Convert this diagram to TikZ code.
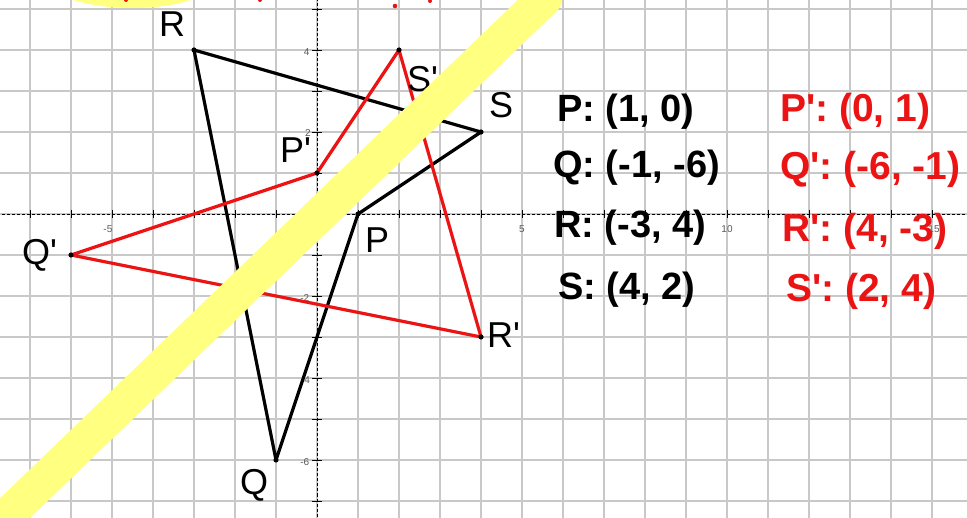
\documentclass[tikz,border=0pt]{standalone}
\usepackage{fontspec}
\setmainfont{Liberation Sans}[Ligatures=TeXOff]
\definecolor{gridc}{RGB}{200,200,200}
\definecolor{myred}{RGB}{235,20,20}
\definecolor{hl}{RGB}{255,255,128}
\definecolor{ticklab}{RGB}{90,90,90}
\begin{document}
\begin{tikzpicture}[x=1pt,y=-1pt,
  vlab/.style={font=\fontsize{36}{36}\selectfont, inner sep=0pt, anchor=base west},
  listblk/.style={font=\bfseries\fontsize{38}{38}\selectfont, inner sep=0pt, anchor=base west},
  listred/.style={listblk, font=\bfseries\fontsize{39}{39}\selectfont, text=myred},
  ticklabel/.style={font=\fontsize{10}{10}\selectfont, text=ticklab, inner sep=0pt},
  polyblack/.style={line width=3.2pt, black, line join=round},
  polyred/.style={line width=3.2pt, myred, line join=round},
  axisline/.style={line width=0.9pt, black, dash pattern=on 3pt off 2pt},
  tickline/.style={line width=0.9pt, black},
]
\useasboundingbox (0,0) rectangle (967,518);
\fill[white] (0,0) rectangle (967,518);
\begin{scope}[shift={(317,214)}, x=41pt, y=41pt]
  \draw[gridc, line width=1.2pt, step=41pt] (-7.8,-7.5) grid (15.9,5.3);
  \draw[axisline] (-7.8,0) -- (15.9,0);
  \draw[axisline] (0,-7.5) -- (0,5.3);
  \foreach \i in {-7,...,15} \draw[tickline] (\i,0) ++(0,4pt) -- ++(0,-8pt);
  \foreach \j in {-7,...,5} \draw[tickline] (0,\j) ++(-5pt,0) -- ++(10pt,0);
  \node[ticklabel] (xm5) at (-5.1,-0.37) {-5};
  \node[ticklabel] (x5) at (5,-0.37) {5};
  \node[ticklabel] (x10) at (10,-0.37) {10};
  \node[ticklabel] (x15) at (15.05,-0.37) {15};
  \node[ticklabel] (y4) at (-0.25,3.95) {4};
  \node[ticklabel] (y2) at (-0.22,1.97) {2};
  \node[ticklabel] (ym2) at (-0.3,-2.05) {-2};
  \node[ticklabel] (ym4) at (-0.28,-4.05) {-4};
  \node[ticklabel] (ym6) at (-0.3,-6.05) {-6};
  \coordinate (P) at (1,0);
  \coordinate (Q) at (-1,-6);
  \coordinate (R) at (-3,4);
  \coordinate (S) at (4,2);
  \coordinate (Pp) at (0,1);
  \coordinate (Qp) at (-6,-1);
  \coordinate (Rp) at (4,-3);
  \coordinate (Sp) at (2,4);
  \draw[polyblack] (P) -- (Q) -- (R) -- (S) -- cycle;
  \draw[polyred] (Pp) -- (Qp) -- (Rp) -- (Sp) -- cycle;
  \foreach \v in {P,Q,R,S,Pp,Qp,Rp,Sp} \fill[black] (\v) circle (2.6pt);
\end{scope}
\node[vlab] (lR) at (159,37) {R};
\node[vlab] (lS) at (489,118) {S};
\node[vlab] (lSp) at (407,92) {S'};
\node[vlab] (lPp) at (280,163) {P'};
\node[vlab] (lP) at (365,253) {P};
\node[vlab] (lQ) at (240,494) {Q};
\node[vlab] (lQp) at (22,265) {Q'};
\node[vlab] (lRp) at (487,348) {R'};
\node[listblk] (tP) at (557,122) {P: (1, 0)};
\node[listblk] (tQ) at (553,178) {Q: (-1, -6)};
\node[listblk] (tR) at (554,238) {R: (-3, 4)};
\node[listblk] (tS) at (558,300) {S: (4, 2)};
\node[listred] (tPp) at (780,122) {P': (0, 1)};
\node[listred] (tQp) at (780,180) {Q': (-6, -1)};
\node[listred] (tRp) at (782,242) {R': (4, -3)};
\node[listred] (tSp) at (786,302) {S': (2, 4)};
\draw[hl, line width=35pt, line cap=round] (-40,561) -- (545,-2);
\fill[hl] (132,-25) ellipse (90 and 33);
\fill[myred] (126,0) circle (2);
\fill[myred] (260,0) circle (2);
\fill[myred] (395,6) circle (2.3);
\fill[myred] (430,1) circle (2);
\end{tikzpicture}
\end{document}
